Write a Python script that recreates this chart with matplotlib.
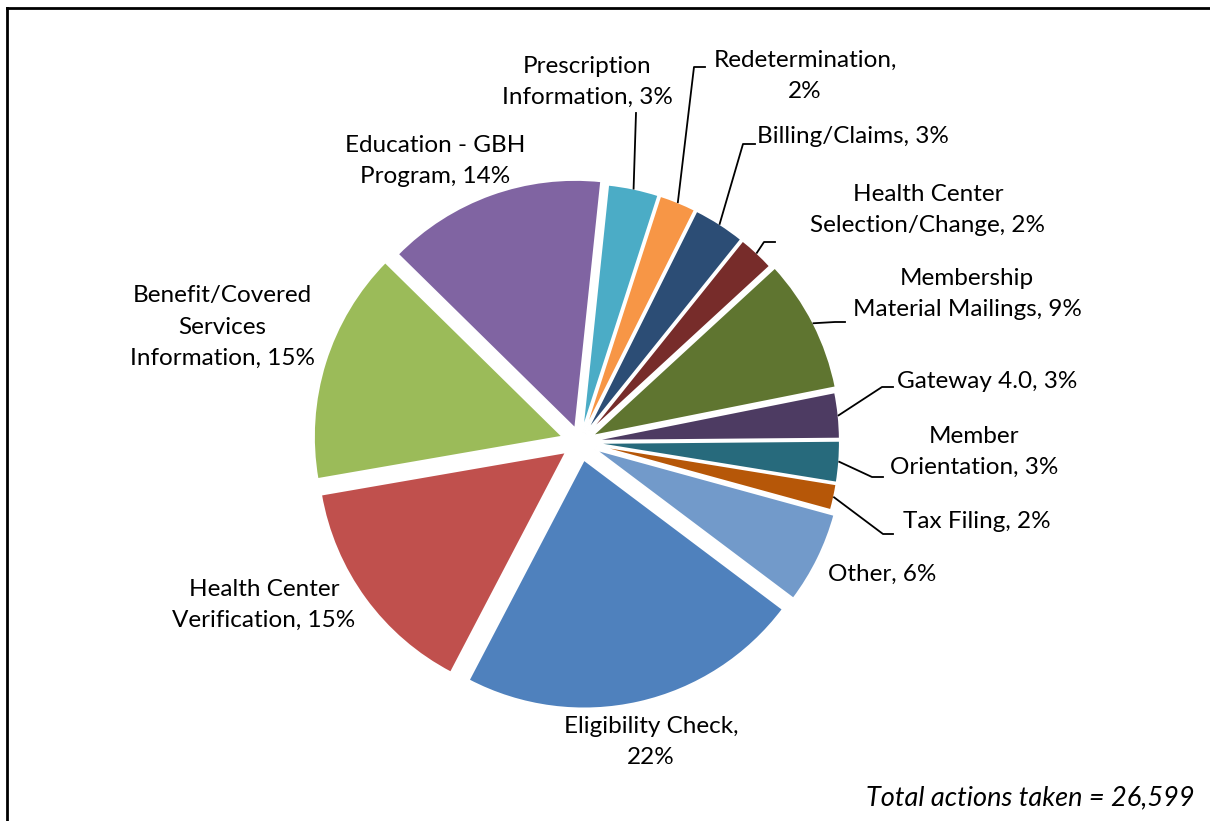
import matplotlib.pyplot as plt
from matplotlib.lines import Line2D
import numpy as np

plt.rcParams['font.family'] = ['Lato', 'DejaVu Sans']

W, H = 1210, 821

# actions taken by category, clockwise from the top of the pie
categories = ["Prescription\nInformation", "Redetermination,\n", "Billing/Claims",
              "Health Center\nSelection/Change", "Membership\nMaterial Mailings",
              "Gateway 4.0", "Member\nOrientation", "Tax Filing", "Other",
              "Eligibility Check,\n", "Health Center\nVerification",
              "Benefit/Covered\nServices\nInformation", "Education - GBH\nProgram"]
counts = [878, 638, 904, 638, 2314, 798, 718, 452, 1596, 5960, 3883, 4016, 3804]
colors = ["#4BACC6", "#F79646", "#2C4D75", "#772C2A", "#5F7530", "#4D3B62",
          "#276A7C", "#B65708", "#729ACA", "#4F81BD", "#C0504D", "#9BBB59", "#8064A2"]

total = sum(counts)
pcts = [100 * c / total for c in counts]

fig = plt.figure(figsize=(W / 100, H / 100), dpi=100)
ax = fig.add_axes([0, 0, 1, 1])
ax.axis('off')


def py(y):
    # pixel rows are counted from the top
    return H - y


cx, cy, R = 580, 442, 249
# pie's explode is in data units, here pixels
explode = [10, 10, 10, 10, 13, 11, 11, 11, 16, 18, 17, 18, 14]

wedges, _ = ax.pie(counts, colors=colors, explode=explode, startangle=84,
                   counterclock=False, center=(cx, py(cy)), radius=R,
                   wedgeprops=dict(edgecolor='white', linewidth=1.5))
ax.set_xlim(0, W)
ax.set_ylim(0, H)
ax.set_aspect('equal')

# label placement: (x, y, ha, leader path after the slice edge or None)
layout = [
    (587, 82, 'center', [(636, 113)]),
    (805, 76, 'center', [(694, 67), (705, 67)]),
    (757, 136, 'left', [(743, 144), (755, 144)]),
    (928, 210, 'center', [(764, 242), (775, 242)]),
    (967, 294, 'center', [(835, 322), (845, 322)]),
    (897, 381, 'left', [(882, 387), (893, 387)]),
    (974, 452, 'center', [(872, 477), (883, 477)]),
    (903, 521, 'left', [(883, 534), (893, 534)]),
    (828, 574, 'left', None),
    (651, 742, 'center', None),
    (264, 605, 'center', None),
    (222, 327, 'center', None),
    (435, 161, 'center', None),
]

for w, name, p, (lx, ly, ha, path) in zip(wedges, categories, pcts, layout):
    if name.endswith("\n"):
        text = f"{name}{p:.0f}%"
    else:
        text = f"{name}, {p:.0f}%"
    ax.text(lx, py(ly), text, ha=ha, va='center', fontsize=17.5,
            linespacing=1.6, color='#000000')
    if path:
        mid = np.deg2rad((w.theta1 + w.theta2) / 2)
        x0 = w.center[0] + w.r * np.cos(mid)
        y0 = w.center[1] + w.r * np.sin(mid)
        xs = [x0] + [p_[0] for p_ in path]
        ys = [y0] + [py(p_[1]) for p_ in path]
        ax.add_line(Line2D(xs, ys, color='black', linewidth=1.3))

ax.text(1195, py(798), f"Total actions taken = {total:,}", ha='right', va='center',
        fontsize=19.5, style='italic')

# chart frame
ax.add_line(Line2D([6.5, W], [py(7.5), py(7.5)], color='black', linewidth=2))
ax.add_line(Line2D([6.5, 6.5], [py(7.5), 0], color='black', linewidth=2))

fig.savefig('out.png', dpi=100)
